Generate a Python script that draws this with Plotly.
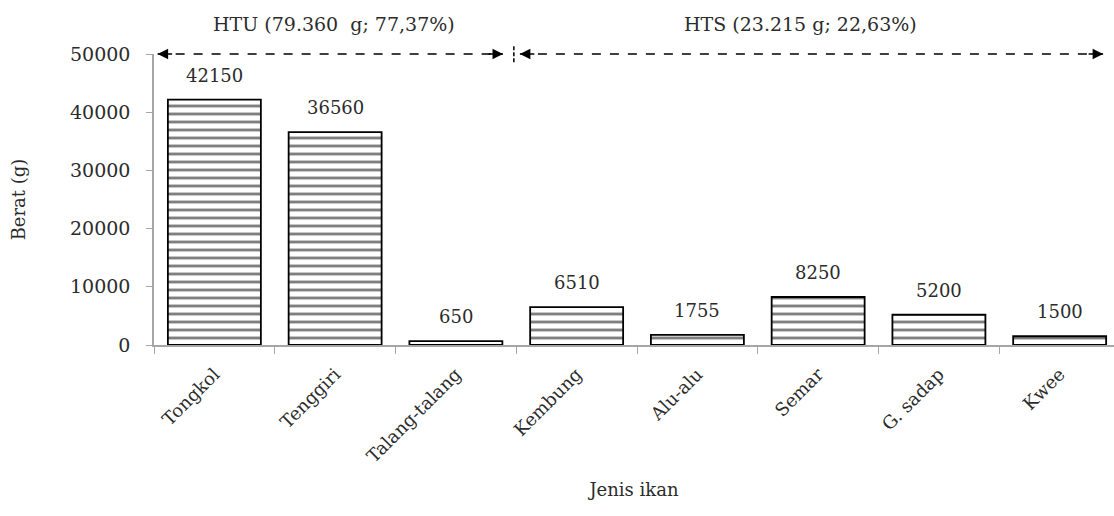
import plotly.graph_objects as go

categories = ["Tongkol", "Tenggiri", "Talang-talang", "Kembung", "Alu-alu", "Semar", "G. sadap", "Kwee"]
weights = [42150, 36560, 650, 6510, 1755, 8250, 5200, 1500]
y_ticks = [0, 10000, 20000, 30000, 40000, 50000]
group_labels = ["HTU (79.360  g; 77,37%)", "HTS (23.215 g; 22,63%)"]

FONT = "DejaVu Serif"
TXT = "#2b2b2b"
AX = "#a6a6a6"

fig = go.Figure()
fig.add_trace(go.Bar(
    x=categories, y=weights,
    marker=dict(color="white", line=dict(color="black", width=1.8),
                pattern=dict(shape="-", size=8, solidity=0.36, fgcolor="black", bgcolor="white")),
    width=0.77,
    cliponaxis=False,
))

for c, v in zip(categories, weights):
    fig.add_annotation(x=c, y=v, text=str(v), showarrow=False, yanchor="bottom", yshift=12,
                       font=dict(family=FONT, size=18, color=TXT))

# group annotations
fig.add_annotation(x=0.99, xref="x", y=1, yref="paper", text=group_labels[0], showarrow=False,
                   yanchor="bottom", yshift=17, font=dict(family=FONT, size=19, color=TXT))
fig.add_annotation(x=4.85, xref="x", y=1, yref="paper", text=group_labels[1], showarrow=False,
                   yanchor="bottom", yshift=17, font=dict(family=FONT, size=19, color=TXT))

# dashed lines
for x0, x1 in [(-0.47, 2.39), (2.53, 7.36)]:
    fig.add_shape(type="line", xref="x", yref="paper", x0=x0, x1=x1, y0=1, y1=1,
                  line=dict(color="black", width=1.4, dash="dash"))
    for xe, dx in [(x0, 16), (x1, -16)]:
        fig.add_annotation(x=xe, y=1, xref="x", yref="paper", ax=dx, ay=0,
                           text="", showarrow=True, arrowhead=2, arrowsize=1.5, arrowwidth=1.4,
                           arrowcolor="black")
fig.add_shape(type="line", xref="x", yref="paper", x0=2.48, x1=2.48, y0=0.972, y1=1.03,
              line=dict(color="black", width=1.5, dash="4px,2px"))

fig.update_layout(
    width=1114, height=516,
    margin=dict(l=154, r=0, t=54, b=171),
    plot_bgcolor="white", paper_bgcolor="white",
    showlegend=False,
    font=dict(family=FONT, color=TXT),
    xaxis=dict(
        range=[-0.5, 7.45], tickson="boundaries", ticks="outside", ticklen=7, tickcolor=AX,
        showline=True, linecolor=AX, linewidth=1.5, tickangle=-45, automargin=False,
        ticklabelstandoff=10,
        tickfont=dict(family=FONT, size=18, color=TXT),
        title=dict(text="Jenis ikan", font=dict(family=FONT, size=18, color=TXT), standoff=18),
        showgrid=False,
    ),
    yaxis=dict(
        range=[0, 50000], tickvals=y_ticks, tickformat="d", ticks="outside", ticklen=6, tickcolor=AX,
        showline=True, linecolor=AX, linewidth=1.5, showgrid=False, zeroline=False,
        automargin=False, ticklabelstandoff=12,
        tickfont=dict(family=FONT, size=19, color=TXT),
        title=dict(text="Berat (g)", font=dict(family=FONT, size=18, color=TXT), standoff=40),
    ),
)

fig.write_html("out.html", config={"displayModeBar": False},
               post_script="document.body.style.margin='0';")
